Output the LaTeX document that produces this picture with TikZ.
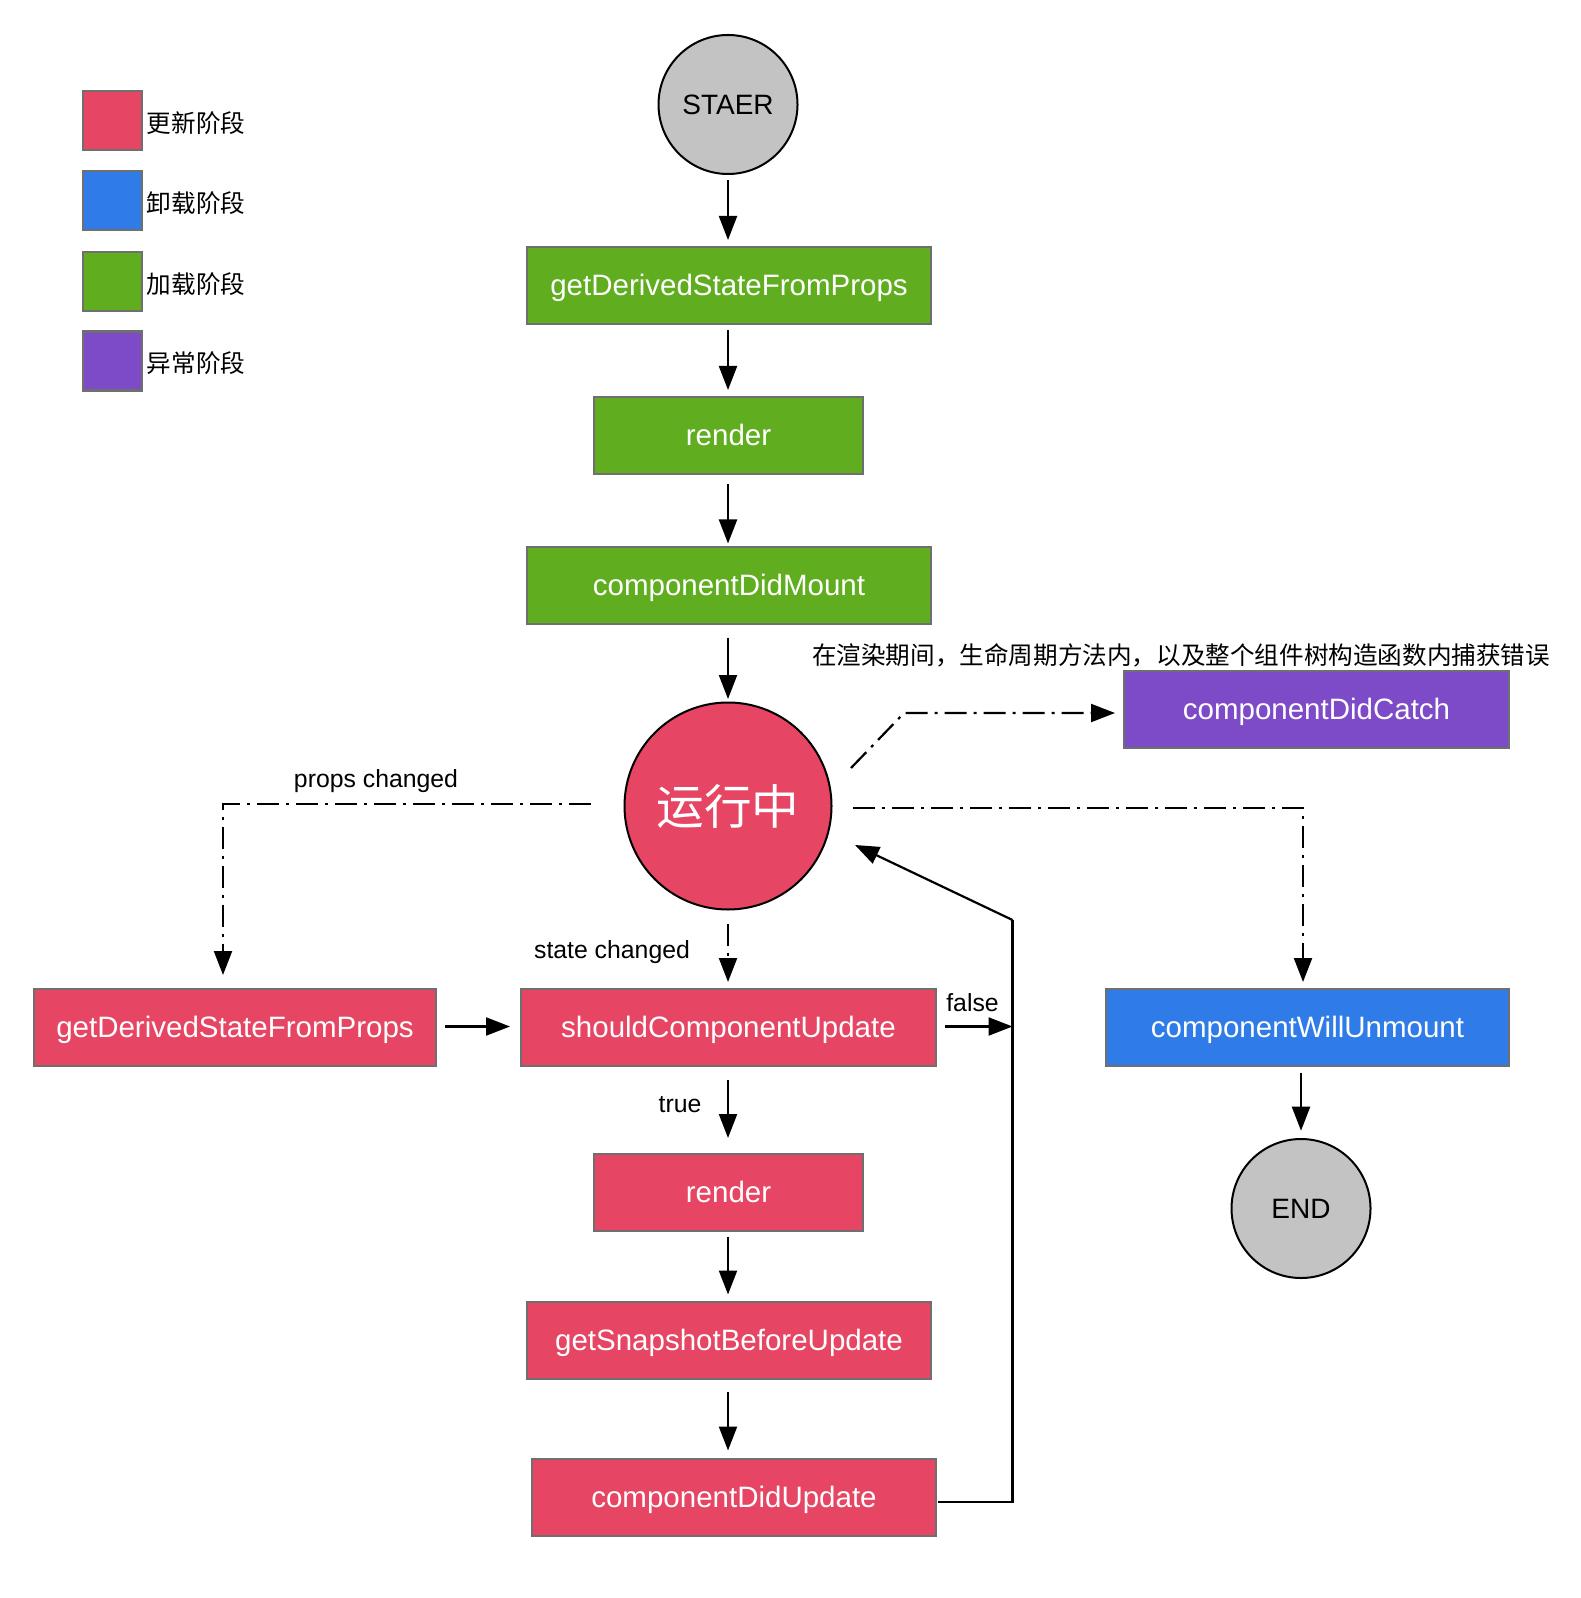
\documentclass[tikz,border=0pt]{standalone}
\usepackage{fontspec}
\setmainfont{Liberation Sans}
\newfontfamily\cjk{Noto Sans CJK SC}
\usetikzlibrary{arrows.meta}
\definecolor{upd}{HTML}{E64563}
\definecolor{unl}{HTML}{2F7CE9}
\definecolor{mnt}{HTML}{60AD1F}
\definecolor{err}{HTML}{7D4BC7}
\definecolor{cgray}{HTML}{C3C3C3}
\definecolor{bgray}{HTML}{6F6F6F}
\begin{document}
\begin{tikzpicture}[x=0.5pt,y=-0.5pt,
  box/.style={rectangle, draw=bgray, line width=1pt, text=white, inner sep=0pt,
    minimum height=38.5pt, text height=12pt, text depth=2pt,
    font=\fontsize{14.75pt}{17pt}\selectfont},
  endpt/.style={circle, draw=black, line width=1pt, fill=cgray, inner sep=0pt,
    minimum size=69.5pt, font=\fontsize{14pt}{16pt}\selectfont},
  legsq/.style={rectangle, draw=bgray, line width=1.2pt, minimum size=29.5pt, inner sep=0pt},
  legtxt/.style={anchor=west, inner sep=0pt, font=\cjk\fontsize{12.3pt}{14pt}\selectfont},
  arr/.style={line width=1.1pt, -{Triangle[length=12pt,width=9pt]}},
  dd/.style={arr, dash pattern=on 11pt off 3.5pt on 1.5pt off 3.5pt},
  lbl/.style={inner sep=0pt, font=\fontsize{12.4pt}{14pt}\selectfont},
  plain/.style={line width=1.1pt}
]
\useasboundingbox (0,0) rectangle (1580,1598);

% legend
\node[legsq, fill=upd] (l1) at (112.7,120.3) {};
\node[legsq, fill=unl] (l2) at (112.7,200.8) {};
\node[legsq, fill=mnt] (l3) at (112.7,281.3) {};
\node[legsq, fill=err] (l4) at (112.7,360.9) {};
\node[legtxt] (t1) at (146.5,123) {更新阶段};
\node[legtxt] (t2) at (146.5,203.5) {卸载阶段};
\node[legtxt] (t3) at (146.5,284) {加载阶段};
\node[legtxt] (t4) at (146.5,363.6) {异常阶段};

% mount phase
\node[endpt] (start) at (728,104.5) {STAER};
\node[box, fill=mnt, minimum width=202pt] (g1) at (729,285.5) {getDerivedStateFromProps};
\node[box, fill=mnt, minimum width=134.5pt] (r1) at (728.5,436) {render};
\node[box, fill=mnt, minimum width=202pt] (cdm) at (729,585) {componentDidMount};

% running
\node[circle, draw=black, line width=1pt, fill=upd, inner sep=0pt, minimum size=103.5pt,
  text=white, font=\cjk\fontsize{23.8pt}{26pt}\selectfont] (run) at (728,806) {运行中};

% error
\node[box, fill=err, minimum width=192.5pt] (cdc) at (1316.5,709.5) {componentDidCatch};
\node[inner sep=0pt, font=\cjk\fontsize{12.3pt}{14pt}\selectfont] (note) at (1181,655)
  {在渲染期间，生命周期方法内，以及整个组件树构造函数内捕获错误};

% update phase
\node[box, fill=upd, minimum width=201pt] (g2) at (235,1027.5) {getDerivedStateFromProps};
\node[box, fill=upd, minimum width=207.5pt] (scu) at (728.5,1027.5) {shouldComponentUpdate};
\node[box, fill=upd, minimum width=134.5pt] (r2) at (728.5,1192.5) {render};
\node[box, fill=upd, minimum width=202pt] (gsbu) at (729,1340.5) {getSnapshotBeforeUpdate};
\node[box, fill=upd, minimum width=202pt] (cdu) at (734,1497.5) {componentDidUpdate};

% unmount
\node[box, fill=unl, minimum width=201.5pt] (cwu) at (1307.5,1027.5) {componentWillUnmount};
\node[endpt] (end) at (1301,1208.5) {END};

% labels
\node[lbl] (lp) at (376,781) {props changed};
\node[lbl] (ls) at (612,952) {state changed};
\node[lbl] (lf) at (972.5,1003) {false};
\node[lbl] (lt) at (680,1105) {true};

% helper coordinates
\coordinate (pc) at (223,804);
\coordinate (ec) at (904,713);
\coordinate (uc) at (1303,808);
\coordinate (lb) at (1012.5,1501.7);
\coordinate (lt2) at (1012.5,920);
\coordinate (fj) at (1012.5,1026.5);

% mount arrows
\draw[arr] ([shift={(0,5)}]start.south) -- ([shift={(-1,-6)}]g1.north);
\draw[arr] ([shift={(-1,5)}]g1.south) -- ([shift={(-0.5,-6.5)}]r1.north);
\draw[arr] ([shift={(-0.5,9)}]r1.south) -- ([shift={(-1,-2)}]cdm.north);
\draw[arr] ([shift={(-1,13)}]cdm.south) -- ([shift={(0,-2.5)}]run.north);

% error branch
\draw[dd] ([shift={(18.5,-38)}]run.east) -- (ec) -- ([shift={(-8,3.5)}]cdc.west);

% props changed
\draw[dd] ([shift={(-33,-2)}]run.west) -- (pc) -- ([shift={(-12,-13)}]g2.north);

% state changed
\draw[dd] ([shift={(0,13)}]run.south) -- ([shift={(-0.5,-6)}]scu.north);

% update chain
\draw[arr] ([shift={(8,-1)}]g2.east) -- ([shift={(-10,-1)}]scu.west);
\draw[arr] ([shift={(8,-1)}]scu.east) -- (fj);
\draw[arr] ([shift={(-0.5,12.5)}]scu.south) -- ([shift={(-0.5,-15)}]r2.north);
\draw[arr] ([shift={(-0.5,4.5)}]r2.south) -- ([shift={(-1,-6.5)}]gsbu.north);
\draw[arr] ([shift={(-1,12)}]gsbu.south) -- ([shift={(-6,-7.5)}]cdu.north);

% loop back
\draw[plain] ([shift={(1,4.2)}]cdu.east) -- (lb) -- (lt2);
\draw[arr] (lt2) -- ([shift={(127,39)}]run.center);

% unmount
\draw[dd] ([shift={(20.5,2)}]run.east) -- (uc) -- ([shift={(-4.5,-6)}]cwu.north);
\draw[arr] ([shift={(-6.5,5.7)}]cwu.south) -- ([shift={(0,-7.3)}]end.north);
\end{tikzpicture}
\end{document}
